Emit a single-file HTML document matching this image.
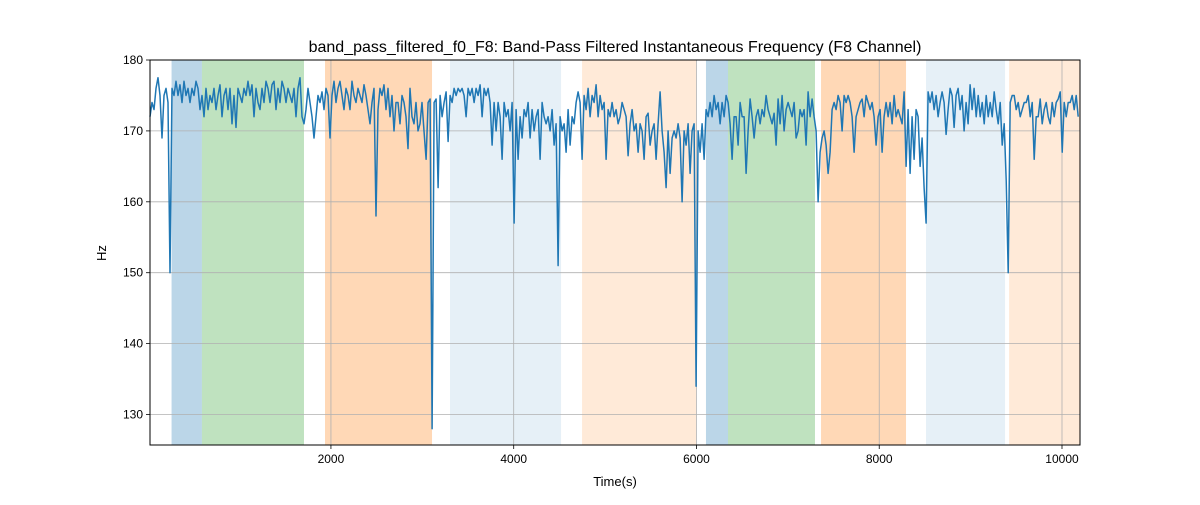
<!DOCTYPE html>
<html><head><meta charset="utf-8"><style>
body{margin:0;background:#fff;font-family:"Liberation Sans",sans-serif;}
svg text{font-family:"Liberation Sans","DejaVu Sans",sans-serif;}
</style></head><body>
<svg id="chart" width="1200" height="500" xmlns="http://www.w3.org/2000/svg">
<rect width="1200" height="500" fill="#fff"/>
<g id="spans"></g><g id="grid"></g><g id="series"></g><g id="axes"></g>
<text x="615" y="52" font-size="16" text-anchor="middle">band_pass_filtered_f0_F8: Band-Pass Filtered Instantaneous Frequency (F8 Channel)</text>
<text x="615" y="486" font-size="13" text-anchor="middle">Time(s)</text>
<text x="106" y="253" font-size="13" text-anchor="middle" transform="rotate(-90 106 253)">Hz</text>
</svg>
<script>
const xTicks=[2000,4000,6000,8000,10000];
const yTicks=[130,140,150,160,170,180];
const spanStarts=[256,588,1935,3303,4748,6104,6345,7363,8512,9421];
const spanEnds=[588,1705,3106,4518,5995,6345,7297,8293,9377,10197];
const spanColors=["rgba(31,119,180,0.3)","rgba(44,160,44,0.3)","rgba(255,127,14,0.3)","rgba(31,119,180,0.11)","rgba(255,127,14,0.16)","rgba(31,119,180,0.3)","rgba(44,160,44,0.3)","rgba(255,127,14,0.3)","rgba(31,119,180,0.11)","rgba(255,127,14,0.16)"];
const t0=20, dt=21.89;
const values=[172,174,173,176,177.5,175,169,175,176,174,150,176,175,177,175,176.5,174,177,175,176,174,176,175,177,176,173,175,172,176,173,175,174,176,173,175,176.5,172,175,176,173,176,171,175,170.5,176,175,174,176,175,177,175,176.5,172,176,174,173,176,174,177,176,174,176.5,177,173,176,174,177,176,174,176,175,174,176,172,176,177.5,172,171,173,176,174,172,169,172,175,174,175.5,173,176,175,169,175,177,174,176,177,175,173,176,175,173,177,175,174,176,175,174,176.5,175,173,171,174,176,158,173,176,175,176.5,173,176,172,175,170,174,174,171,175,174,172,167.5,176,172,171,174,170,171,174,170,166,174,174.5,128,174,174.5,162,175,172,174,175.5,168.5,175,174,176,175,176,175.5,176,175,172,176,175,176,174,176,175,176.5,172,176,175,176,174,168,174,170,174,172,166,174,172,173,170,174,157,173,166,172,169,173,172,174,169,173,170,172,173,166,174,172,171,172,170,173,168,171,151,172,170,171,167,173,168,172,171,174,175.5,174,166,175,173,176,172,175,174,176.5,172,175,173,174,166,173,172,174,172,173,171,172,174,173,172,166.5,171,173,170,171,167,171,170,166,172,172.5,168,170,171,166,171,175.5,170,167,162,170,164,169,170,169,171,169,160,170,168,171,164,170,171,134,170,167,171,166,173,172,174,172,175,173,174,171,174,172,175,174,171,166,172,172,168,174,172,172,164,170,174.5,172,169,172,173,171,173,172,175,173,172,171,172.5,168,174.5,171,175,170,173,174,173,172,174,169,170,173,172,173,168,175.5,172,174.5,172,170,160,167,169,170,168,164,167,173,174,173,175,174,170,175,174,175,174,172,167,172,173,174,174.5,172,175,174,173,174,172,168,172,173,167,172,174,172,174,171,175,172,173,172,171,175.5,165,173,164,172,166,173,172,165,169,162,157,175.5,174,175.5,173,175,172,174,175.5,174,169.5,173,176,175,170.5,175,176,173,175,170,174,171,176.5,173,176,172,175,172,174,171,175,172,174,172,175.5,173,171,174,168,171,163,150,174,175,175,173,174,172,173,174,174,175,172,174,166,172,172,174.5,171,173,174,172,171,174,172,174,174.5,175.5,167,174,172,174,174,175,173,175,172];
const X0=150,X1=1080,Y0=60,Y1=445,xmin=20,xmax=10197,ymin=125.7,ymax=180;
const xs=v=>X0+(v-xmin)/(xmax-xmin)*(X1-X0);
const ys=v=>Y1-(v-ymin)/(ymax-ymin)*(Y1-Y0);
const NS="http://www.w3.org/2000/svg";
function mk(tag,parent,attrs){const e=document.createElementNS(NS,tag);for(const k in attrs)e.setAttribute(k,attrs[k]);document.getElementById(parent).appendChild(e);return e;}
spanStarts.forEach((s,i)=>{
 const r=mk("rect","spans",{x:xs(s),y:Y0,width:xs(spanEnds[i])-xs(s),height:Y1-Y0,fill:spanColors[i]});
 
 
});
xTicks.forEach(t=>{
 const g=mk("line","grid",{x1:xs(t),x2:xs(t),y1:Y0,y2:Y1,stroke:"#b0b0b0","stroke-width":0.8});
 
 
 mk("line","axes",{x1:xs(t),x2:xs(t),y1:Y1,y2:Y1+4,stroke:"#000","stroke-width":0.8});
 const tx=mk("text","axes",{x:xs(t),y:Y1+18,"font-size":12,"text-anchor":"middle"});tx.textContent=t;
 
 
});
yTicks.forEach(t=>{
 const g=mk("line","grid",{x1:X0,x2:X1,y1:ys(t),y2:ys(t),stroke:"#b0b0b0","stroke-width":0.8});
 
 
 mk("line","axes",{x1:X0-4,x2:X0,y1:ys(t),y2:ys(t),stroke:"#000","stroke-width":0.8});
 const tx=mk("text","axes",{x:X0-7,y:ys(t)+4,"font-size":12,"text-anchor":"end"});tx.textContent=t;
 
 
});
const pts=values.map((v,i)=>xs(t0+i*dt).toFixed(1)+","+ys(v).toFixed(1)).join(" ");
const line=mk("polyline","series",{points:pts,fill:"none",stroke:"#1f77b4","stroke-width":1.5,"stroke-linejoin":"round"});


const fr=mk("rect","axes",{x:X0,y:Y0,width:X1-X0,height:Y1-Y0,fill:"none",stroke:"#000","stroke-width":1});


</script>
</body></html>
